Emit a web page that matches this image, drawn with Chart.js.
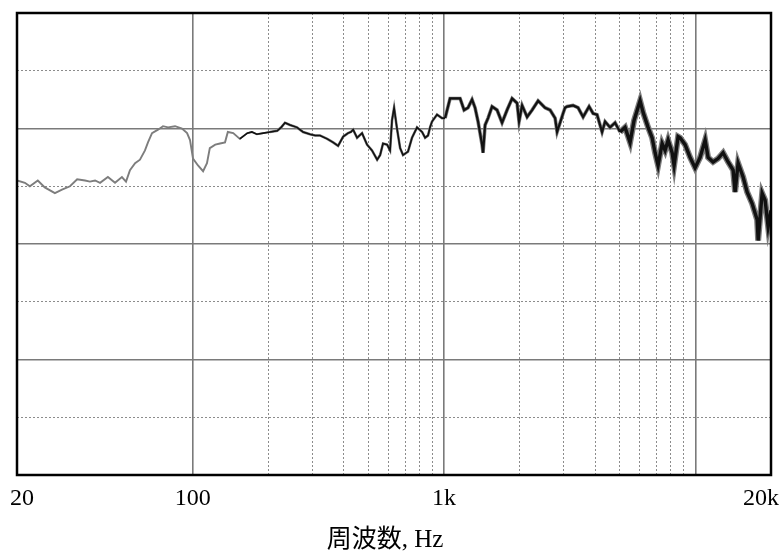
<!DOCTYPE html>
<html>
<head>
<meta charset="utf-8">
<script src="https://cdn.jsdelivr.net/npm/chart.js@4/dist/chart.umd.min.js"></script>
<style>
  html, body { margin: 0; padding: 0; background: #fff; }
  canvas { display: block; }
</style>
</head>
<body>
<canvas id="fr" width="782" height="552"></canvas>
<script>
// Measured frequency response (Hz, dB)
const freqHz = [
  20, 21.5, 22.5, 24.2, 25.8, 28.3, 30.2, 32.5, 34.7, 37.3, 39, 40.9, 42.8, 46, 49.1, 52.3, 54.3,
  56.3, 59, 61.7, 64.6, 66.4, 68.9, 72.8, 76.2, 79.8, 85.1, 90.7, 95, 97.6, 100.3, 105, 110, 114,
  117, 123, 128.5, 134.5, 138, 145, 154, 165, 172, 180, 191, 203, 217, 225, 233, 244, 260, 275, 293,
  307, 321, 343, 362, 379, 397, 415, 426, 435, 451, 472, 494, 517, 542, 557, 572, 594, 610, 621, 633,
  650, 669, 687, 719, 746, 781, 818, 841, 864, 880, 896, 938, 982, 1010, 1057, 1107, 1159, 1202, 1246,
  1293, 1329, 1366, 1417, 1430, 1457, 1497, 1553, 1626, 1702, 1782, 1866, 1953, 1989, 2045, 2141,
  2241, 2368, 2524, 2643, 2767, 2818, 2976, 3031, 3088, 3262, 3415, 3576, 3778, 3920, 4064, 4255,
  4374, 4578, 4793, 5017, 5252, 5499, 5704, 6028, 6196, 6487, 6728, 6916, 7108, 7376, 7580, 7792,
  8085, 8232, 8540, 8698, 9104, 9530, 9977, 10446, 10937, 11238, 11766, 12318, 12896, 13502, 14134,
  14394, 14796, 15490, 16070, 16826, 17616, 17778, 18440, 18948, 19478, 20000
];
const levelDb = [
  85.5, 85.3, 85.0, 85.5, 84.9, 84.4, 84.7, 85.0, 85.6, 85.5, 85.4, 85.5, 85.3, 85.8, 85.3, 85.8, 85.4,
  86.4, 87.0, 87.3, 88.1, 88.8, 89.6, 89.9, 90.2, 90.1, 90.2, 90.0, 89.6, 89.0, 87.4, 86.8, 86.3, 87.0,
  88.3, 88.6, 88.7, 88.8, 89.7, 89.6, 89.1, 89.6, 89.7, 89.5, 89.6, 89.7, 89.8, 90.1, 90.5, 90.3, 90.1, 89.7, 89.5,
  89.4, 89.4, 89.1, 88.8, 88.5, 89.3, 89.6, 89.7, 89.9, 89.2, 89.6, 88.6, 88.1, 87.3, 87.7, 88.7, 88.6, 88.1, 90.7, 91.8,
  90.0, 88.3, 87.7, 88.0, 89.2, 90.1, 89.7, 89.2, 89.4, 90.1, 90.6, 91.2, 90.9, 90.9, 92.6, 92.6, 92.6, 91.6, 91.8,
  92.5, 91.8, 90.6, 88.6, 87.9, 90.3, 90.9, 91.9, 91.6, 90.5, 91.6, 92.6, 92.2, 90.6, 92.0, 91.0,
  91.6, 92.4, 91.8, 91.6, 90.9, 89.7, 91.3, 91.8, 91.9, 92.0, 91.8, 91.0, 91.9, 91.3, 91.2, 89.7,
  90.6, 90.1, 90.5, 89.7, 90.1, 88.8, 90.7, 92.4, 91.4, 90.1, 89.2, 87.9, 86.8, 88.7, 88.1, 89.0,
  87.9, 86.8, 89.3, 89.2, 88.6, 87.5, 86.6, 87.5, 89.0, 87.5, 87.1, 87.4, 87.9, 87.1, 86.4,
  84.5, 87.0, 85.8, 84.5, 83.5, 82.1, 80.3, 84.4, 83.8, 81.5, 82.9
];

// Axis ranges and labels
const freqRange = [20, 20000];
const levelRange = [60, 100];
const levelStep = 5;
const gridFreqs = [20, 100, 200, 300, 400, 500, 600, 700, 800, 900,
                   1000, 2000, 3000, 4000, 5000, 6000, 7000, 8000, 9000, 10000, 20000];
const tickValues = [20, 100, 1000, 20000];
const tickLabels = ['20', '100', '1k', '20k'];
const axisTitle = '周波数, Hz';

const SOLID = '#7a7a7a';
const DOTTED = '#8c8c8c';
const isDecade = v => Math.abs(Math.log10(v) - Math.round(Math.log10(v))) < 1e-6;

const toPoints = () => freqHz.map((f, i) => ({ x: f, y: levelDb[i] }));

// Frame around the plot area plus frequency labels and axis title
const framePlugin = {
  id: 'frame',
  afterDraw(chart) {
    const { ctx, chartArea: a } = chart;
    const xs = chart.scales.x;
    ctx.save();
    ctx.strokeStyle = '#000';
    ctx.lineWidth = 2.5;
    ctx.strokeRect(a.left, a.top, a.right - a.left, a.bottom - a.top);

    ctx.fillStyle = '#000';
    ctx.textBaseline = 'alphabetic';
    ctx.textAlign = 'center';
    ctx.font = '24px "Liberation Serif", "Times New Roman", serif';
    tickValues.forEach((v, i) => {
      const t = tickLabels[i];
      const w = ctx.measureText(t).width;
      let px = xs.getPixelForValue(v);
      px = Math.min(Math.max(px, w / 2 + 10), chart.width - w / 2 - 3);
      ctx.fillText(t, px, a.bottom + 30);
    });
    ctx.font = '25px "Liberation Serif", "Noto Sans CJK JP", serif';
    ctx.fillText(axisTitle, 385, a.bottom + 72);
    ctx.restore();
  }
};

new Chart(document.getElementById('fr'), {
  type: 'line',
  data: {
    datasets: [
      {
        // dark trace
        data: toPoints(),
        order: 1,
        borderColor: '#111',
        borderWidth: 1.4,
        pointRadius: 0,
        tension: 0,
        segment: {
          borderColor: s => s.p0.parsed.x < 150 ? 'rgba(0,0,0,0)' : '#111',
          borderWidth: s => {
            const f = s.p0.parsed.x;
            return f < 1000 ? 1.6 : (f < 5000 ? 2.2 : 3.4);
          }
        }
      },
      {
        // grey trace underneath
        data: toPoints(),
        order: 2,
        borderColor: '#7d7d7d',
        borderWidth: 1.9,
        pointRadius: 0,
        tension: 0,
        segment: {
          borderWidth: s => {
            const f = s.p0.parsed.x;
            return f < 200 ? 1.9 : (f < 1000 ? 2.6 : (f < 5000 ? 3.6 : 6));
          }
        }
      }
    ]
  },
  options: {
    responsive: false,
    animation: false,
    events: [],
    layout: { padding: { left: 17, right: 11, top: 13, bottom: 77 } },
    plugins: { legend: { display: false }, tooltip: { enabled: false } },
    scales: {
      x: {
        type: 'logarithmic',
        min: freqRange[0],
        max: freqRange[1],
        afterBuildTicks: s => { s.ticks = gridFreqs.map(v => ({ value: v })); },
        ticks: { display: false },
        grid: {
          drawTicks: false,
          color: c => {
            const v = c.tick.value;
            if (v === freqRange[0] || v === freqRange[1]) return 'rgba(0,0,0,0)';
            return isDecade(v) ? SOLID : DOTTED;
          },
          lineWidth: c => isDecade(c.tick.value) ? 1.6 : 1
        },
        border: {
          display: false,
          dash: c => (c.tick && !isDecade(c.tick.value)) ? [2, 2] : []
        }
      },
      y: {
        min: levelRange[0],
        max: levelRange[1],
        ticks: { display: false, stepSize: levelStep },
        grid: {
          drawTicks: false,
          color: c => {
            const v = c.tick.value;
            if (v === levelRange[0] || v === levelRange[1]) return 'rgba(0,0,0,0)';
            return v % 10 === 0 ? SOLID : DOTTED;
          },
          lineWidth: c => c.tick.value % 10 === 0 ? 1.6 : 1
        },
        border: {
          display: false,
          dash: c => (c.tick && c.tick.value % 10 !== 0) ? [2, 2] : []
        }
      }
    }
  },
  plugins: [framePlugin]
});
</script>
</body>
</html>
